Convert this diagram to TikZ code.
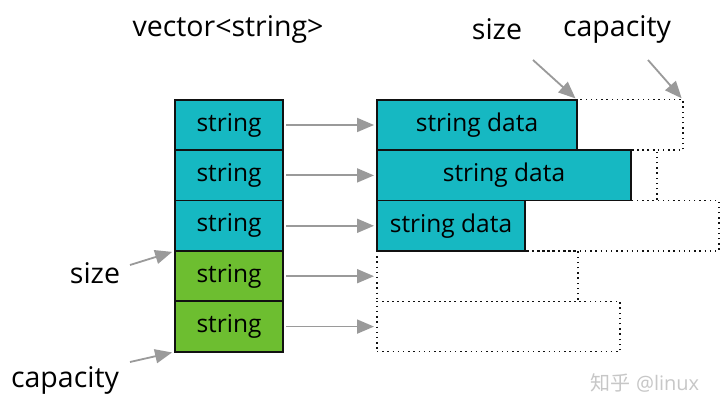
\documentclass[tikz,border=0pt]{standalone}
\usepackage{fontspec}
\setmainfont{Open Sans}
\newfontfamily\cjk{Noto Sans CJK SC}
\usepackage{xcolor}
\usepackage{tikz}
\usetikzlibrary{positioning,arrows.meta,calc}
\definecolor{vecink}{HTML}{111111}
\definecolor{veccyan}{HTML}{16B8C2}
\definecolor{vecgreen}{HTML}{6DBE30}
\definecolor{vecgray}{HTML}{9A9A9A}
\tikzset{
  cell/.style  ={draw=vecink,fill=veccyan,line width=1.8pt,minimum width=108pt,minimum height=50.4pt,inner sep=0pt,outer sep=0pt,font=\fontsize{24.5}{28}\selectfont},
  cellg/.style ={cell,fill=vecgreen},
  data/.style  ={cell,minimum width=#1},
  cap/.style   ={draw=vecink,line width=1.4pt,dash pattern=on 1.4pt off 3.8pt,minimum height=50.4pt,inner sep=0pt,outer sep=0pt,minimum width=#1},
  arr/.style   ={-{Triangle[length=17pt,width=14pt]},line width=1.8pt,draw=vecgray,color=vecgray},
  lbl/.style   ={font=\fontsize{28.5}{32}\selectfont,inner sep=0pt},
}

\begin{document}
\begin{tikzpicture}[x=1pt,y=-1pt,node distance=0pt and 94pt]
  \useasboundingbox[fill=white] (0,0) rectangle (720,411);

  % vector elements
  \node[cell] (s1) at (229,125) {string};
  \node[cell,  below=of s1] (s2) {string};
  \node[cell,  below=of s2] (s3) {string};
  \node[cellg, below=of s3] (s4) {string};
  \node[cellg, below=of s4] (s5) {string};

  % capacity of each string
  \node[cap=306pt, right=of s1] (c1) {};
  \node[cap=280pt, right=of s2] (c2) {};
  \node[cap=342pt, right=of s3] (c3) {};
  \node[cap=201pt, right=of s4] (c4) {};
  \node[cap=243pt, right=of s5] (c5) {};

  % used part
  \node[data=200pt, right=of s1] (d1) {string data};
  \node[data=254pt, right=of s2] (d2) {string data};
  \node[data=148pt, right=of s3] (d3) {string data};

  \foreach \i in {1,...,5}
    \draw[arr,shorten <=3pt,shorten >=3pt] (s\i) -- (c\i);

  % labels
  \node[lbl] (vec) at (228,29) {vector<string>};
  \node[lbl] (szt) at (497,29) {size};
  \node[lbl] (cpt) at (617,29) {capacity};
  \node[lbl] (szl) at (95,273) {size};
  \node[lbl] (cpl) at (65,380) {capacity};

  \draw[arr,shorten >=2pt] (533,60) -- (d1.north east);
  \draw[arr,shorten >=2pt] (648,60) -- (c1.north east);
  \draw[arr,shorten >=3pt] (130,265) -- (s4.north west);
  \draw[arr,shorten >=3pt] (130,362) -- (s5.south west);

  \node[font=\fontsize{20}{24}\selectfont,text=black!22] (wm) at (645,383) {{\cjk 知乎} @linux};
\end{tikzpicture}
\end{document}
